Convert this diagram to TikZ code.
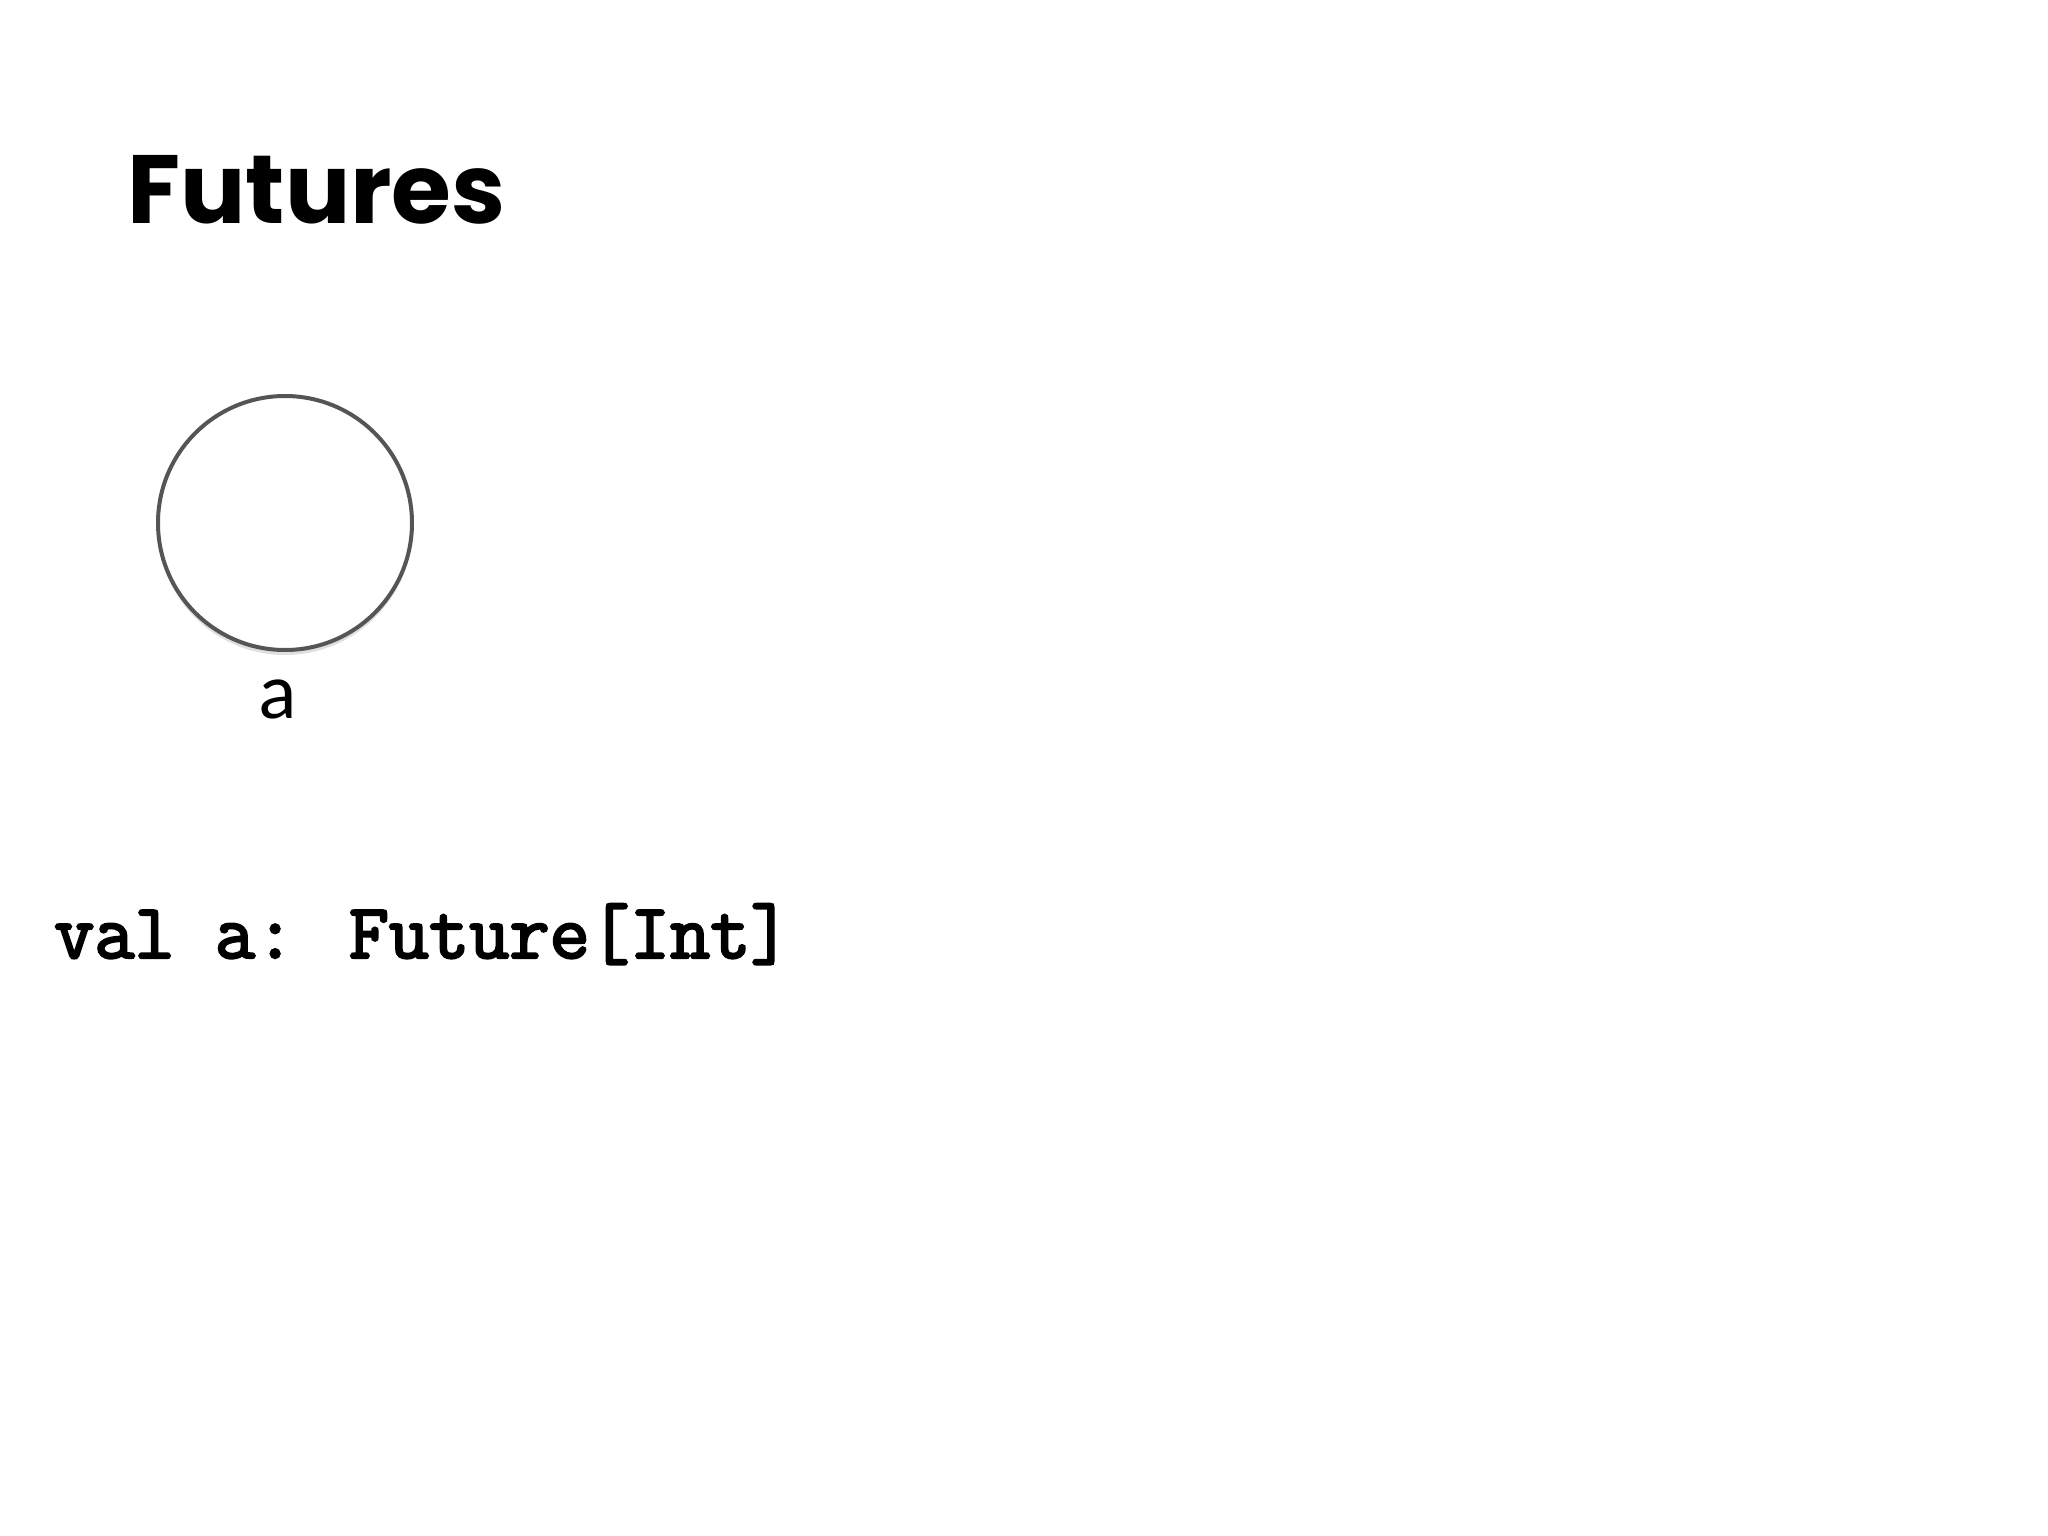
\documentclass[tikz,border=0pt]{standalone}
\usepackage{fontspec}
\setmainfont{Lato}
\newfontfamily\titlefont{Poppins}
\newfontfamily\codefont[FakeBold=3]{Latin Modern Mono}
\usetikzlibrary{shadows}
\definecolor{ringgray}{HTML}{555555}
\tikzset{
  title/.style={anchor=base west, inner sep=0pt, font=\titlefont\bfseries\fontsize{97}{107}\selectfont},
  future/.style={circle, draw=ringgray, line width=4pt, fill=white, minimum size=254pt, inner sep=0pt,
    drop shadow={opacity=0.25, shadow xshift=0pt, shadow yshift=-5pt}},
  lbl/.style={anchor=base, inner sep=0pt, font=\fontsize{75}{80}\selectfont},
  code/.style={anchor=base west, inner sep=0pt, font=\codefont\fontsize{78}{84}\selectfont}
}
\begin{document}
\begin{tikzpicture}[x=1pt,y=1pt]
\useasboundingbox[fill=white] (0,0) rectangle (2048,-1536);
\node[title] (t) at (127,-223) {Futures};
\node[future] (a) at (285,-523) {};
\node[lbl] (al) at (278,-718) {a};
\node[code] (c) at (54,-958) {val a: Future[Int]};
\end{tikzpicture}
\end{document}
